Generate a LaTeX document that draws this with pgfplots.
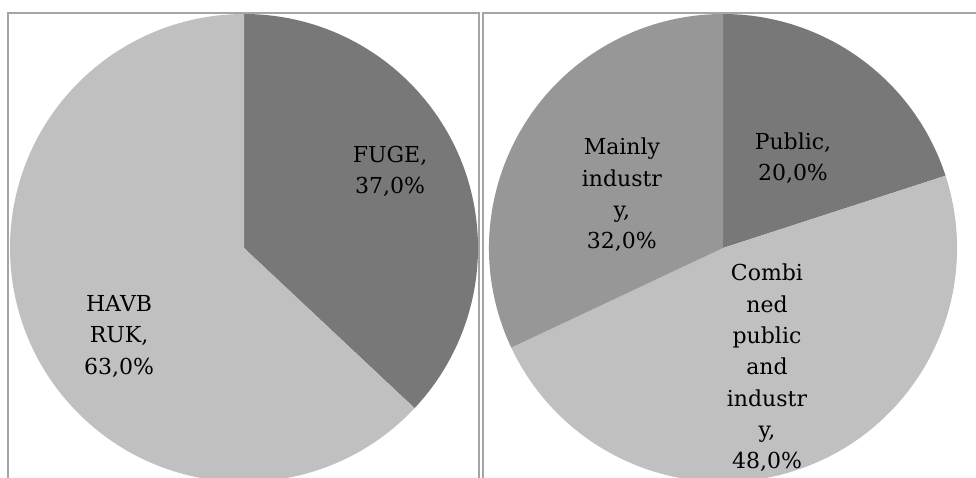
\documentclass[border=0pt]{standalone}
\usepackage{pgfplots}
\pgfplotsset{compat=1.18}
\usepackage{pgfplotstable}
\usepackage{fontspec}
\setmainfont{DejaVu Serif}

\definecolor{darkslice}{HTML}{787878}
\definecolor{midslice}{HTML}{979797}
\definecolor{lightslice}{HTML}{C0C0C0}
\definecolor{framegray}{HTML}{A5A5A5}

% shares in percent, clockwise from 12 o'clock
\pgfplotstableread{
slice share
FUGE 37.0
HAVBRUK 63.0
}\leftpie
\pgfplotstableread{
slice share
Public 20.0
Combined 48.0
Mainly 32.0
}\rightpie

\pgfplotstablegetelem{0}{share}\of\leftpie \edef\fugeshare{\pgfplotsretval}
\pgfplotstablegetelem{1}{share}\of\leftpie \edef\havshare{\pgfplotsretval}
\pgfplotstablegetelem{0}{share}\of\rightpie \edef\pubshare{\pgfplotsretval}
\pgfplotstablegetelem{1}{share}\of\rightpie \edef\combshare{\pgfplotsretval}
\pgfplotstablegetelem{2}{share}\of\rightpie \edef\indshare{\pgfplotsretval}

\newcommand\R{175.5pt}
\pgfplotsset{
  pie/.style={anchor=origin, x=175.5pt, y=175.5pt,
    xmin=-1.05, xmax=1.05, ymin=-1.05, ymax=1.05,
    hide axis, clip=false},
}
\tikzset{lab/.style={align=center, inner sep=0pt,
    font=\fontsize{16.5pt}{23.5pt}\selectfont}}

\begin{document}
\begin{tikzpicture}
\useasboundingbox (0,0) rectangle (732pt,-358.5pt);

% frames
\draw[framegray, line width=1.4pt] (6pt,-400pt) |- (359.25pt,-9.75pt) -- (359.25pt,-400pt);
\draw[framegray, line width=1.4pt] (362.25pt,-400pt) |- (760pt,-9.75pt);

% left pie
\begin{axis}[pie, at={(183pt,-186pt)}]
\fill[darkslice] (axis cs:0,0) -- ++(90:\R)
  arc[start angle=90, delta angle={-3.6*\fugeshare}, radius=\R] -- cycle;
\fill[lightslice] (axis cs:0,0) -- ++({90-3.6*\fugeshare}:\R)
  arc[start angle={90-3.6*\fugeshare}, delta angle={-3.6*\havshare}, radius=\R] -- cycle;
\node[lab] at (axis cs:0.624,0.327) {FUGE,\\37,0\%};
\node[lab] at (axis cs:-0.534,-0.378) {HAVB\\RUK,\\63,0\%};
\end{axis}

% right pie
\begin{axis}[pie, at={(542.25pt,-186pt)}]
\fill[darkslice] (axis cs:0,0) -- ++(90:\R)
  arc[start angle=90, delta angle={-3.6*\pubshare}, radius=\R] -- cycle;
\fill[lightslice] (axis cs:0,0) -- ++({90-3.6*\pubshare}:\R)
  arc[start angle={90-3.6*\pubshare}, delta angle={-3.6*\combshare}, radius=\R] -- cycle;
\fill[midslice] (axis cs:0,0) -- ++({90-3.6*(\pubshare+\combshare)}:\R)
  arc[start angle={90-3.6*(\pubshare+\combshare)}, delta angle={-3.6*\indshare}, radius=\R] -- cycle;
\node[lab] at (axis cs:0.299,0.385) {Public,\\20,0\%};
\node[lab] at (axis cs:-0.432,0.226) {Mainly\\industr\\y,\\32,0\%};
\node[lab] at (axis cs:0.188,-0.513) {Combi\\ned\\public\\and\\industr\\y,\\48,0\%};
\end{axis}
\end{tikzpicture}
\end{document}
